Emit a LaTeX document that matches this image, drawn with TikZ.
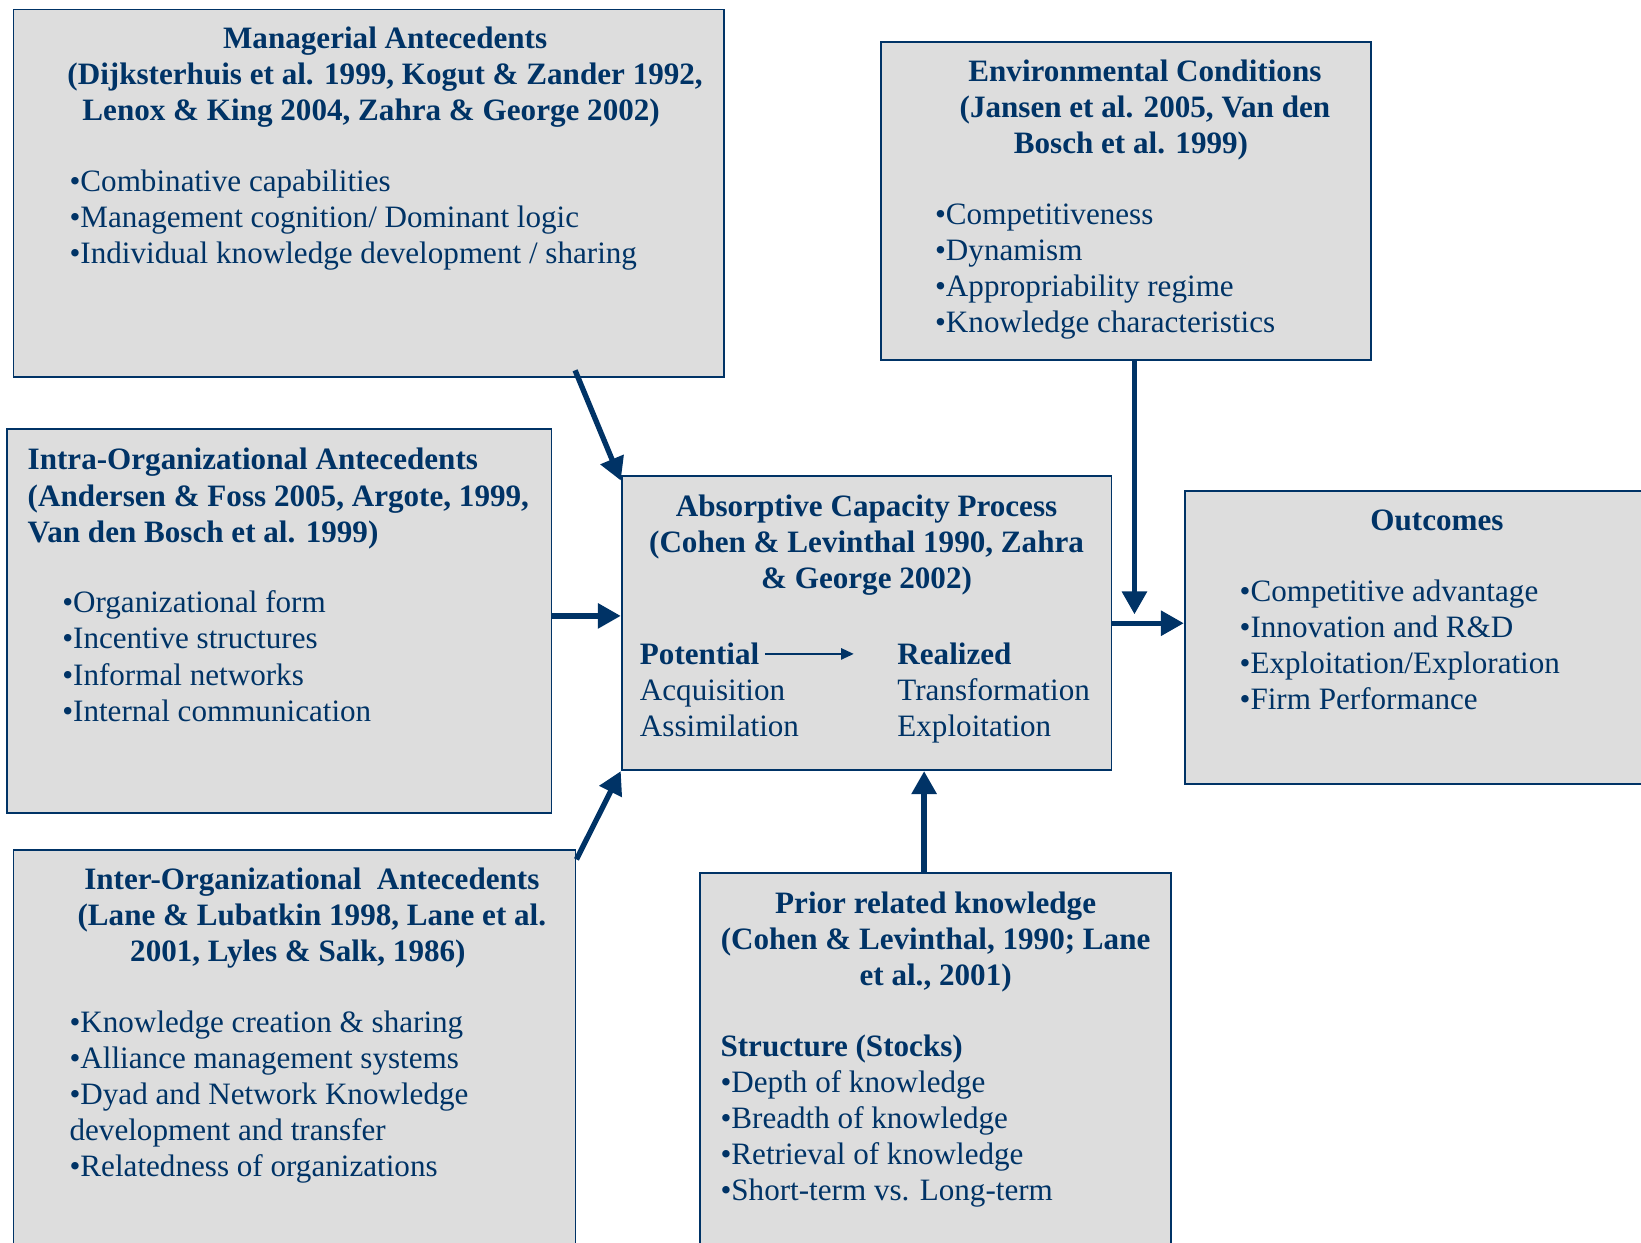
\documentclass[tikz,border=0pt]{standalone}
\usepackage{fontspec}
\setmainfont{Liberation Serif}
\usetikzlibrary{arrows.meta,calc,fit}
\definecolor{navy}{RGB}{0,51,102}
\definecolor{boxgray}{RGB}{221,221,221}

\begin{document}
\begin{tikzpicture}[x=0.01448cm,y=-0.01448cm,
  every node/.style={text=navy,font=\fontsize{12.25}{14.2}\selectfont,inner sep=0pt},
  box/.style={draw=navy,fill=boxgray,line width=0.7pt,inner sep=0pt},
  headtext/.style={font=\fontsize{12.25}{14.2}\selectfont\bfseries,align=center,anchor=base},
  items/.style={align=left,anchor=base west},
  flow/.style={draw=navy,line width=2.1pt,-{Triangle[length=9pt,width=9.5pt]}},
  link/.style={draw=navy,line width=0.6pt,-{Triangle[length=5pt,width=4.5pt]}}]
\useasboundingbox (0,0) rectangle (1568,1187);
\clip (0,0) rectangle (1568,1187);

% boxes
\node[box,fit={(13,9) (692,360)}] (mgr) {};
\node[box,fit={(842,40) (1310,344)}] (env) {};
\node[box,fit={(7,410) (527,777)}] (intra) {};
\node[box,fit={(594,455) (1062,736)}] (acap) {};
\node[box,fit={(1132,469) (1620,749)}] (out) {};
\node[box,fit={(13,812) (550,1230)}] (inter) {};
\node[box,fit={(669,834) (1119,1230)}] (prior) {};

% texts, placed at the baseline of their last line
% managerial
\node[headtext] (mgrhead) at (368,115) {Managerial Antecedents\\(Dijksterhuis et al. 1999, Kogut \& Zander 1992,\\Lenox \& King 2004, Zahra \& George 2002)\kern11pt};
\node[items] (mgritems) at (66,252) {•Combinative capabilities\\•Management cognition/ Dominant logic\\•Individual knowledge development / sharing};

% environment
\node[headtext] (envhead) at (1094,147) {Environmental Conditions\\(Jansen et al. 2005, Van den\\Bosch et al. 1999)\kern11pt};
\node[items] (envitems) at (893,318) {•Competitiveness\\•Dynamism\\•Appropriability regime\\•Knowledge characteristics};

% intra-organizational
\node[headtext,align=left,anchor=base west] (intrahead) at (26,518) {Intra-Organizational Antecedents\\(Andersen \& Foss 2005, Argote, 1999,\\Van den Bosch et al. 1999)};
\node[items] (intraitems) at (59,689) {•Organizational form\\•Incentive structures\\•Informal networks\\•Internal communication};

% absorptive capacity
\node[headtext] (acaphead) at (828,562) {Absorptive Capacity Process\\(Cohen \& Levinthal 1990, Zahra\\\& George 2002)};
\node[items,font=\fontsize{12.25}{14.2}\selectfont\bfseries] (pot) at (611,635) {Potential};
\node[items] (potitems) at (611,704) {Acquisition\\Assimilation};
\node[items,font=\fontsize{12.25}{14.2}\selectfont\bfseries] (real) at (857,635) {Realized};
\node[items] (realitems) at (857,704) {Transformation\\Exploitation};

% outcomes
\node[headtext] (outhead) at (1373,507) {Outcomes};
\node[items] (outitems) at (1184,678) {•Competitive advantage\\•Innovation and R\&D\\•Exploitation/Exploration\\•Firm Performance};

% inter-organizational
\node[headtext] (interhead) at (298,919) {Inter-Organizational\ \ Antecedents\\(Lane \& Lubatkin 1998, Lane et al.\\2001, Lyles \& Salk, 1986)\kern11pt};
\node[items] (interitems) at (66,1124) {•Knowledge creation \& sharing\\•Alliance management systems\\•Dyad and Network Knowledge\\development and transfer\\•Relatedness of organizations};

% prior knowledge
\node[headtext] (priorhead) at (894,942) {Prior related knowledge\\(Cohen \& Levinthal, 1990; Lane\\et al., 2001)};
\node[items] (prioritems) at (688,1147) {\textbf{Structure (Stocks)}\\•Depth of knowledge\\•Breadth of knowledge\\•Retrieval of knowledge\\•Short-term vs. Long-term};

% arrows
\draw[flow] ($(mgr.south)+(197,-7)$) -- ($(acap.north west)+(0,5)$);
\draw[flow] ($(intra.east)+(0,-5)$) coordinate (intraout) -- (intraout -| acap.west);
\draw[flow] ($(inter.north east)+(0,10)$) -- (acap.south west);
\coordinate (envend) at (1084,587);
\draw[flow] (env.south -| envend) -- (envend);
\draw[flow] (acap.east) -- (acap.east -| out.west);
\draw[flow] ($(prior.north)+(-11,0)$) coordinate (priorout) -- (priorout |- acap.south);
\draw[link,shorten >=17pt] ([xshift=2pt]pot.east) -- (pot.east -| real.west);
\end{tikzpicture}
\end{document}
